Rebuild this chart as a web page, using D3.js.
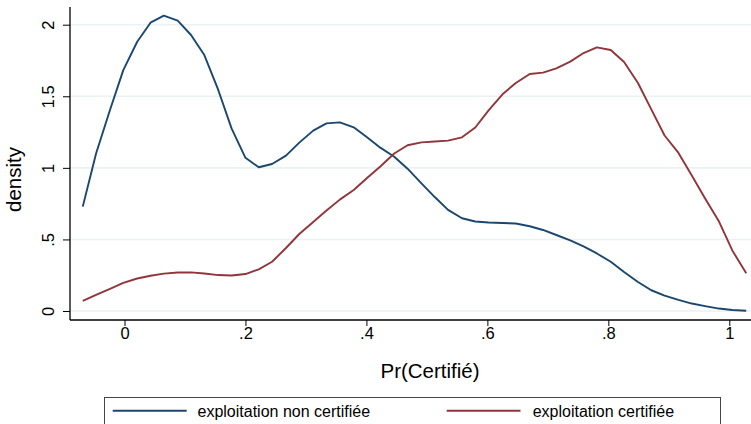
<!DOCTYPE html>
<html>
<head>
<meta charset="utf-8">
<script src="https://cdn.jsdelivr.net/npm/d3@7"></script>
<style>
  body { margin: 0; background: #fff; }
  svg { display: block; font-family: "Liberation Sans", Arial, sans-serif; }
</style>
</head>
<body>
<svg id="chart" width="751" height="424"></svg>
<script>
// evaluation grid of the density estimate
var xGrid = [-0.069, -0.047, -0.024, -0.002, 0.021, 0.043, 0.065, 0.088, 0.110, 0.132,
             0.155, 0.177, 0.200, 0.222, 0.244, 0.267, 0.289, 0.312, 0.334, 0.356,
             0.379, 0.401, 0.423, 0.446, 0.468, 0.491, 0.513, 0.535, 0.558, 0.580,
             0.602, 0.625, 0.647, 0.670, 0.692, 0.714, 0.737, 0.759, 0.781, 0.804,
             0.826, 0.849, 0.871, 0.893, 0.916, 0.938, 0.960, 0.983, 1.005, 1.028];

var nonCertifiee = [0.729, 1.100, 1.404, 1.683, 1.881, 2.014, 2.063, 2.028, 1.928, 1.788,
                    1.544, 1.276, 1.070, 1.004, 1.027, 1.085, 1.176, 1.260, 1.311, 1.318,
                    1.283, 1.213, 1.141, 1.078, 0.994, 0.891, 0.796, 0.706, 0.648, 0.625,
                    0.618, 0.615, 0.611, 0.592, 0.566, 0.531, 0.494, 0.451, 0.402, 0.344,
                    0.272, 0.203, 0.145, 0.108, 0.078, 0.052, 0.034, 0.017, 0.007, 0.002];

var certifiee = [0.070, 0.112, 0.154, 0.196, 0.227, 0.246, 0.261, 0.269, 0.270, 0.262,
                 0.251, 0.248, 0.258, 0.291, 0.344, 0.440, 0.538, 0.622, 0.702, 0.778,
                 0.845, 0.929, 1.009, 1.100, 1.158, 1.178, 1.184, 1.190, 1.213, 1.282,
                 1.402, 1.514, 1.593, 1.656, 1.665, 1.695, 1.742, 1.802, 1.842, 1.823,
                 1.739, 1.593, 1.408, 1.226, 1.104, 0.947, 0.786, 0.625, 0.423, 0.263];

var xTicks = [0, 0.2, 0.4, 0.6, 0.8, 1];
var yTicks = [0, 0.5, 1, 1.5, 2];
var seriesNames = ["exploitation non certifiée", "exploitation certifiée"];
var seriesColors = ["#1a476f", "#90353b"];

var svg = d3.select("#chart");

var plot = {left: 70, right: 751, top: 7, bottom: 320};

var x = d3.scaleLinear().domain([0, 1]).range([124.5, 729.3]);
var y = d3.scaleLinear().domain([0, 2]).range([311, 24.7]);

var fmt = function(d) { return d === 0 ? "0" : String(d).replace(/^0\./, "."); };

////////// grid //////////
svg.append("g")
    .selectAll("line")
    .data(yTicks)
    .enter()
    .append("line")
    .attr("x1", plot.left)
    .attr("x2", plot.right)
    .attr("y1", function(d) { return y(d); })
    .attr("y2", function(d) { return y(d); })
    .attr("stroke", "#eaf2f3")
    .attr("stroke-width", 1.6);

////////// axes //////////
var yAxis = svg.append("g")
    .attr("transform", "translate(" + plot.left + ",0)")
    .call(d3.axisLeft(y).tickValues(yTicks).tickSize(7).tickFormat(fmt));
yAxis.select(".domain").remove();
yAxis.append("line")
    .attr("x1", 0).attr("x2", 0)
    .attr("y1", plot.top).attr("y2", plot.bottom)
    .attr("stroke", "#000").attr("stroke-width", 1.3);
yAxis.selectAll(".tick line").attr("stroke", "#000").attr("stroke-width", 1);
yAxis.selectAll(".tick text")
    .attr("x", null).attr("dy", null)
    .attr("fill", "#000")
    .style("font-size", "16.5px")
    .attr("text-anchor", "middle")
    .attr("transform", "translate(-16.5,0) rotate(-90)");

var xAxis = svg.append("g")
    .attr("transform", "translate(0," + plot.bottom + ")")
    .call(d3.axisBottom(x).tickValues(xTicks).tickSize(6).tickFormat(fmt));
xAxis.select(".domain").remove();
xAxis.append("line")
    .attr("x1", plot.left).attr("x2", plot.right)
    .attr("y1", 0).attr("y2", 0)
    .attr("stroke", "#000").attr("stroke-width", 1.3);
xAxis.selectAll(".tick line").attr("stroke", "#000").attr("stroke-width", 1);
xAxis.selectAll(".tick text")
    .attr("y", 18.5).attr("dy", null)
    .attr("fill", "#000")
    .style("font-size", "16.5px");

// axis titles
svg.append("text")
    .attr("transform", "translate(21,179.5) rotate(-90)")
    .attr("text-anchor", "middle")
    .style("font-size", "20.5px")
    .text("density");

svg.append("text")
    .attr("x", 430)
    .attr("y", 378)
    .attr("text-anchor", "middle")
    .style("font-size", "20.5px")
    .text("Pr(Certifié)");

////////// curves //////////
var line = d3.line()
    .x(function(d) { return x(d[0]); })
    .y(function(d) { return y(d[1]); });

[nonCertifiee, certifiee].forEach(function(vals, k) {
  svg.append("path")
      .datum(xGrid.map(function(v, i) { return [v, vals[i]]; }))
      .attr("fill", "none")
      .attr("stroke", seriesColors[k])
      .attr("stroke-width", 1.9)
      .attr("stroke-linejoin", "round")
      .attr("d", line);
});

////////// legend //////////
var legend = svg.append("g");
legend.append("rect")
    .attr("x", 104.5).attr("y", 397.5)
    .attr("width", 616).attr("height", 40)
    .attr("fill", "#fff")
    .attr("stroke", "#444")
    .attr("stroke-width", 1);

var legendItems = [
  {x1: 112.7, x2: 186.7, tx: 197.5},
  {x1: 446.7, x2: 520.5, tx: 532.7}
];
legendItems.forEach(function(it, k) {
  legend.append("line")
      .attr("x1", it.x1).attr("x2", it.x2)
      .attr("y1", 410.7).attr("y2", 410.7)
      .attr("stroke", seriesColors[k])
      .attr("stroke-width", 1.9);
  legend.append("text")
      .attr("x", it.tx)
      .attr("y", 416.5)
      .style("font-size", "16px")
      .text(seriesNames[k]);
});
</script>
</body>
</html>
